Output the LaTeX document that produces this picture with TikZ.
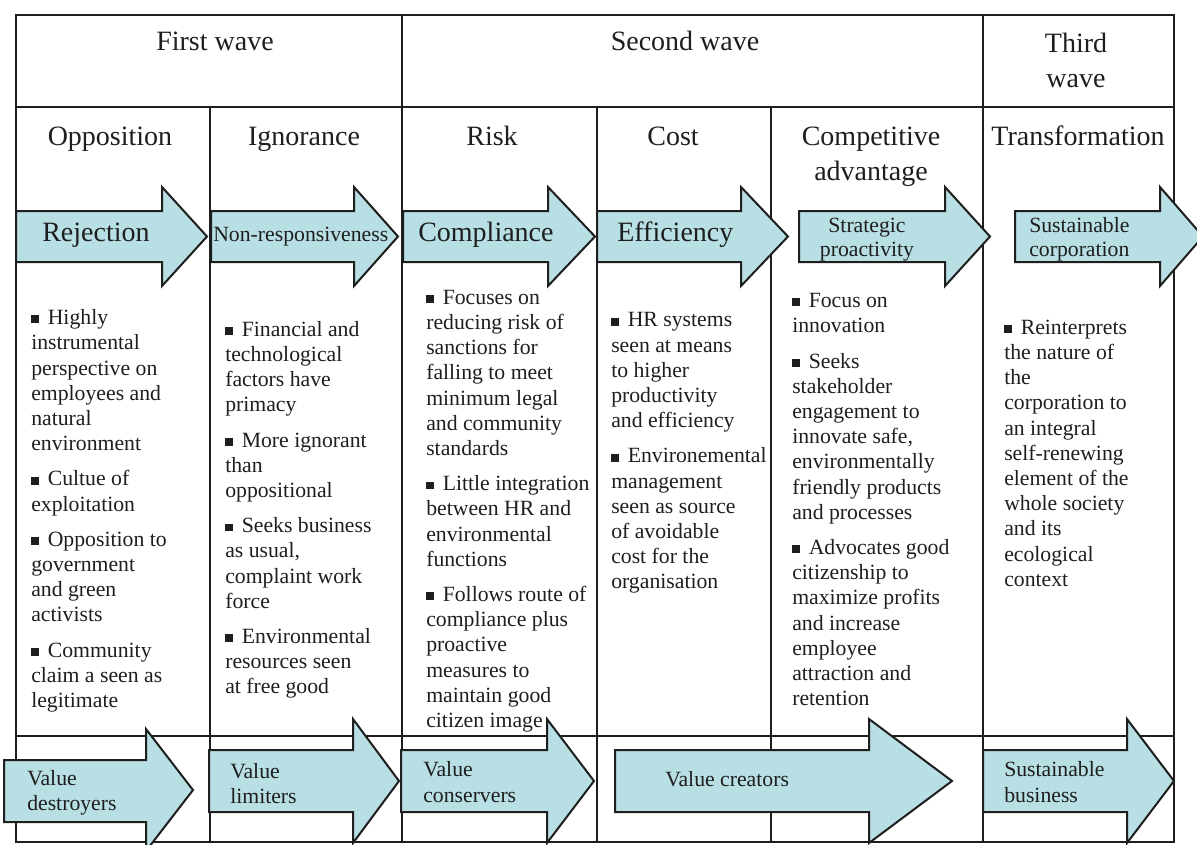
\documentclass[tikz,border=0pt]{standalone}
\usepackage{fontspec}
\setmainfont{Liberation Serif}
\definecolor{arrowfill}{RGB}{184,223,228}
\definecolor{inkgray}{RGB}{30,30,30}
\newcommand{\sqbul}{\rule[0.06em]{0.36em}{0.36em}\hspace{0.4em}}
\newcommand{\bodyfont}{\fontsize{16.3}{18.9}\selectfont}
\newcommand{\bigfont}{\fontsize{21}{26.25}\selectfont}
\newcommand{\tagfont}{\fontsize{16.3}{18}\selectfont}

\begin{document}
\begin{tikzpicture}[x=0.75pt,y=0.75pt,yscale=-1,xscale=1,
  grid/.style={draw=inkgray, line width=1.5pt},
  rarrow/.style={draw=inkgray, fill=arrowfill, line width=1.5pt, line join=miter},
  bigtxt/.style={inner sep=0pt, text=inkgray, font=\bigfont, align=center},
  bodytxt/.style={inner sep=0pt, text=inkgray, font=\bodyfont, align=left, anchor=north west},
  tagtxt/.style={inner sep=0pt, text=inkgray, font=\tagfont, align=left}]
\useasboundingbox (0,0) rectangle (1197,844);

%Straight Lines: table frame and rules
\draw [grid] (16,15) rectangle (1174,842);
\draw [grid] (16,107) -- (1174,107);
\draw [grid] (16,736) -- (1174,736);
\draw [grid] (402,15) -- (402,842);
\draw [grid] (983,15) -- (983,842);
\foreach \x in {210,597,771} \draw [grid] (\x,107) -- (\x,842);

%Shape: Right Arrow (strategy row)
\foreach \a/\b/\c in {16/162/207, 211/354/398, 403/548/595, 597/741/788, 799/945/990, 1015/1160/1203}
  \draw [rarrow] (\a,211) -- (\b,211) -- (\b,187) -- (\c,236.5) -- (\b,286) -- (\b,262) -- (\a,262) -- cycle ;

%Shape: Right Arrow (value row)
\draw [rarrow] (4,760) -- (146,760) -- (146,729) -- (193,790) -- (146,851) -- (146,822) -- (4,822) -- cycle ;
\foreach \a/\b/\c in {209/353/399, 401/547/594, 615/869/952, 983/1127/1174}
  \draw [rarrow] (\a,750) -- (\b,750) -- (\b,719) -- (\c,781) -- (\b,843) -- (\b,812) -- (\a,812) -- cycle ;

% Text Node
\draw (215,50) node [bigtxt, anchor=base] (wave1) {First wave};
% Text Node
\draw (685,50) node [bigtxt, anchor=base] (wave2) {Second wave};
% Text Node
\draw (1076,27.8) node [bigtxt, anchor=north] (wave3) {\strut Third\\wave};

% Text Node
\draw (110,145.5) node [bigtxt, anchor=base] (hopp) {Opposition};
% Text Node
\draw (304,145.5) node [bigtxt, anchor=base] (hign) {Ignorance};
% Text Node
\draw (492,145.5) node [bigtxt, anchor=base] (hrisk) {Risk};
% Text Node
\draw (673,145.5) node [bigtxt, anchor=base] (hcost) {Cost};
% Text Node
\draw (871,121.2) node [bigtxt, anchor=north] (hcomp) {\strut Competitive\\advantage};
% Text Node
\draw (1078,145.5) node [bigtxt, anchor=base] (htrans) {Transformation};

% Text Node
\draw (42,241) node [bigtxt, anchor=base west] (rejection) {Rejection};
% Text Node
\draw (213,241) node [tagtxt, anchor=base west] (nonresp) {Non-responsiveness};
% Text Node
\draw (418,241) node [bigtxt, anchor=base west] (compliance) {Compliance};
% Text Node
\draw (617,241) node [bigtxt, anchor=base west] (efficiency) {Efficiency};
% Text Node
\draw (867,215) node [tagtxt, anchor=north, align=center] (strategic) {\strut Strategic\\proactivity};
% Text Node
\draw (1029,215) node [tagtxt, anchor=north west] (sustcorp) {\strut Sustainable\\corporation};

% Text Node
\draw (31,306.7) node [bodytxt] (oppitems) {\strut\sqbul Highly\\instrumental\\perspective on\\employees and\\natural\\environment\\[7.5pt]
\sqbul Cultue of\\exploitation\\[7.5pt]
\sqbul Opposition to\\government\\and green\\activists\\[7.5pt]
\sqbul Community\\claim a seen as\\legitimate};
% Text Node
\draw (225,318.4) node [bodytxt] (ignitems) {\strut\sqbul Financial and\\technological\\factors have\\primacy\\[7.5pt]
\sqbul More ignorant\\than\\oppositional\\[7.5pt]
\sqbul Seeks business\\as usual,\\complaint work\\force\\[7.5pt]
\sqbul Environmental\\resources seen\\at free good};
% Text Node
\draw (426,286.4) node [bodytxt] (riskitems) {\strut\sqbul Focuses on\\reducing risk of\\sanctions for\\falling to meet\\minimum legal\\and community\\standards\\[7.5pt]
\sqbul Little integration\\between HR and\\environmental\\functions\\[7.5pt]
\sqbul Follows route of\\compliance plus\\proactive\\measures to\\maintain good\\citizen image};
% Text Node
\draw (611,309) node [bodytxt] (costitems) {\strut\sqbul HR systems\\seen at means\\to higher\\productivity\\and efficiency\\[7.5pt]
\sqbul Environemental\\management\\seen as source\\of avoidable\\cost for the\\organisation};
% Text Node
\draw (792,289.7) node [bodytxt] (compitems) {\strut\sqbul Focus on\\innovation\\[7.5pt]
\sqbul Seeks\\stakeholder\\engagement to\\innovate safe,\\environmentally\\friendly products\\and processes\\[7.5pt]
\sqbul Advocates good\\citizenship to\\maximize profits\\and increase\\employee\\attraction and\\retention};
% Text Node
\draw (1004,316.4) node [bodytxt] (transitems) {\strut\sqbul Reinterprets\\the nature of\\the\\corporation to\\an integral\\self-renewing\\element of the\\whole society\\and its\\ecological\\context};

% Text Node
\draw (27,767.4) node [bodytxt] (destroyers) {\strut Value\\destroyers};
% Text Node
\draw (230,760.4) node [bodytxt] (limiters) {\strut Value\\limiters};
% Text Node
\draw (423,759) node [bodytxt] (conservers) {\strut Value\\conservers};
% Text Node
\draw (665,786) node [tagtxt, anchor=base west] (creators) {Value creators};
% Text Node
\draw (1004,759) node [bodytxt] (sustbiz) {\strut Sustainable\\business};

\end{tikzpicture}
\end{document}
